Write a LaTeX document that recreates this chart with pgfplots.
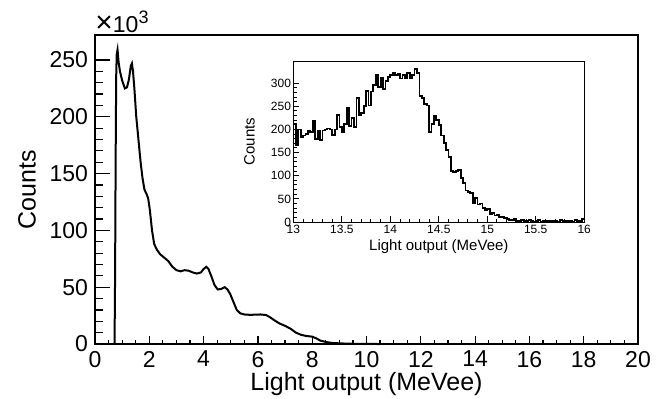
\documentclass[border=0pt]{standalone}
\usepackage{fontspec}
\setmainfont{Liberation Sans}
\usepackage{pgfplots}
\pgfplotsset{compat=1.18}
\begin{document}
\begin{tikzpicture}
\useasboundingbox (-47.5pt,-27pt) rectangle (288.5pt,172pt);
% main axis
\begin{axis}[
  at={(0pt,0pt)}, anchor=south west,
  width=271.5pt, height=154.5pt, scale only axis,
  xmin=0, xmax=20, ymin=0, ymax=272,
  xtick={0,2,...,20}, minor x tick num=3,
  ytick={0,50,...,250}, minor y tick num=4,
  tick pos=left, tick align=inside,
  major tick length=4pt, minor tick length=2pt,
  axis line style={line width=0.75pt},
  every tick/.style={black, line width=0.6pt},
  /pgf/number format/assume math mode=true,
  tick label style={font=\fontsize{11.5}{13}\selectfont},
  xlabel={Light output (MeVee)},
  ylabel={Counts},
  label style={font=\fontsize{12.5}{14}\selectfont},
  x label style={at={(axis description cs:0.5,-0.149)}, anchor=base},
  y label style={at={(axis description cs:-0.125,0.5)}, anchor=center},
  clip=false,
]
\addplot[black, line width=1pt, sharp plot] coordinates {
(0.72,0) (0.74,60) (0.76,160) (0.78,235) (0.80,255) (0.83,259) (0.87,248)
(0.92,240) (1.00,232) (1.10,225) (1.18,226) (1.25,233) (1.32,245) (1.36,247)
(1.40,240) (1.45,225) (1.52,200) (1.60,180) (1.68,160) (1.75,146) (1.82,136)
(1.90,132) (1.96,128) (2.02,118) (2.10,100) (2.18,88) (2.28,83) (2.40,79)
(2.55,76) (2.70,73) (2.85,68) (3.00,65) (3.15,64) (3.30,65) (3.45,64.5)
(3.60,63) (3.75,62) (3.90,63) (4.00,66) (4.10,68) (4.18,66) (4.28,60)
(4.40,52) (4.52,48) (4.65,48.5) (4.78,50) (4.88,48) (4.98,44) (5.10,37)
(5.22,30) (5.35,27) (5.50,26) (5.70,25.7) (5.90,25.8) (6.10,26) (6.30,25.5)
(6.45,23.5) (6.60,21) (6.80,18) (7.00,16) (7.20,13.5) (7.40,10) (7.60,8)
(7.80,7) (8.00,6.5) (8.15,5) (8.30,3) (8.50,1.8) (8.70,1) (9.00,0.6)
(9.30,0.3) (9.60,0.15) (10.0,0.05) (10.5,0)
};
\node[anchor=base west, inner sep=0pt, font=\fontsize{11.5}{13}\selectfont] at (axis cs:0,272) [yshift=1.2pt] {{\fontsize{15}{15}\selectfont ×}10\textsuperscript{\fontsize{9}{10}\selectfont 3}};
\end{axis}
% overlay for longer y ticks
\begin{axis}[
  at={(0pt,0pt)}, anchor=south west,
  width=271.5pt, height=154.5pt, scale only axis,
  xmin=0, xmax=20, ymin=0, ymax=272,
  xtick=\empty,
  ytick={0,50,...,250}, minor y tick num=4, yticklabels={},
  tick pos=left, tick align=inside,
  major tick length=7.5pt, minor tick length=4pt,
  axis line style={line width=0.75pt},
  every tick/.style={black, line width=0.6pt},
]
\addplot[draw=none] coordinates {(0,0)};
\end{axis}
% inset
\begin{axis}[
  at={(99.2pt,61pt)}, anchor=south west,
  width=145.4pt, height=80.5pt, scale only axis,
  xmin=13, xmax=16, ymin=0, ymax=348,
  xtick={13,13.5,...,16}, minor x tick num=4,
  ytick={0,50,...,300}, minor y tick num=4,
  tick pos=left, tick align=inside,
  major tick length=3pt, minor tick length=1.6pt,
  axis line style={line width=0.5pt},
  every tick/.style={black, line width=0.5pt},
  axis background/.style={fill=white},
  /pgf/number format/assume math mode=true,
  tick label style={font=\fontsize{6}{7}\selectfont},
  xticklabel style={inner sep=1.2pt},
  yticklabel style={inner sep=1pt},
  xlabel={Light output (MeVee)},
  ylabel={Counts},
  label style={font=\fontsize{7.5}{9}\selectfont},
  x label style={at={(axis description cs:0.5,-0.174)}, anchor=base},
  y label style={at={(axis description cs:-0.151,0.5)}, anchor=center},
]
\addplot[black, line width=0.9pt, const plot mark left] coordinates {
(13.000,213) (13.025,166) (13.050,200) (13.075,183) (13.100,187) (13.125,190)
(13.150,196) (13.175,195) (13.200,218) (13.225,180) (13.250,198) (13.275,177)
(13.300,198) (13.325,200) (13.350,202) (13.375,200) (13.400,188) (13.425,200)
(13.450,232) (13.475,205) (13.500,195) (13.525,212) (13.550,247) (13.575,208)
(13.600,225) (13.625,205) (13.650,268) (13.675,230) (13.700,236) (13.725,250)
(13.750,283) (13.775,252) (13.800,282) (13.825,296) (13.850,318) (13.875,292)
(13.900,312) (13.925,288) (13.950,305) (13.975,313) (14.000,318) (14.025,322)
(14.050,318) (14.075,320) (14.100,310) (14.125,318) (14.150,312) (14.175,322)
(14.200,310) (14.225,318) (14.250,330) (14.275,322) (14.300,272) (14.325,268)
(14.350,255) (14.375,252) (14.400,195) (14.425,212) (14.450,230) (14.475,220)
(14.500,210) (14.525,187) (14.550,170) (14.575,155) (14.600,140) (14.625,110)
(14.650,108) (14.675,110) (14.700,112) (14.725,95) (14.750,85) (14.775,68)
(14.800,64) (14.825,62) (14.850,40) (14.875,52) (14.900,38) (14.925,40)
(14.950,30) (14.975,25) (15.000,28) (15.025,18) (15.050,20) (15.075,14)
(15.100,15) (15.125,10) (15.150,12) (15.175,8) (15.200,6) (15.225,5)
(15.250,4) (15.275,6) (15.300,3) (15.325,2) (15.350,4) (15.375,3)
(15.400,2) (15.425,5) (15.450,3) (15.475,1) (15.500,2) (15.525,4)
(15.550,1) (15.575,2) (15.600,3) (15.625,1) (15.650,2) (15.675,0)
(15.700,3) (15.725,1) (15.750,5) (15.775,2) (15.800,1) (15.825,3)
(15.850,2) (15.875,1) (15.900,4) (15.925,2) (15.950,3) (15.975,6)
(16.000,6)
};
\end{axis}
\end{tikzpicture}
\end{document}
